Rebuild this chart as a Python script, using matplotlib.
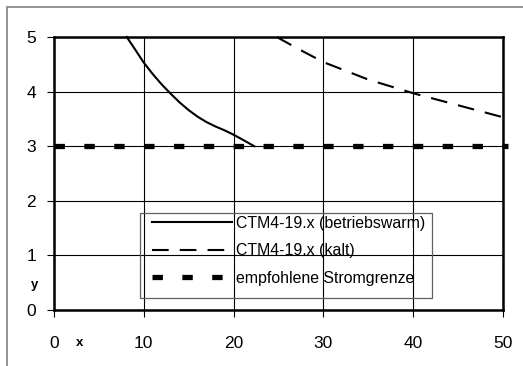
import matplotlib
matplotlib.use('Agg')
import matplotlib.pyplot as plt
from matplotlib.patches import Rectangle

plt.rcParams['font.family'] = ['Liberation Sans', 'DejaVu Sans']
plt.rcParams['lines.scale_dashes'] = False

# data
warm_x = [8.1, 9.0, 10.0, 11.0, 12.0, 13.0, 14.0, 15.0, 16.0, 17.0, 18.0, 19.0, 20.0, 21.0, 22.3]
warm_y = [5.0, 4.78, 4.53, 4.32, 4.13, 3.96, 3.8, 3.66, 3.54, 3.44, 3.36, 3.29, 3.21, 3.12, 3.0]

kalt_x = [24.8, 27.0, 30.0, 35.0, 40.0, 45.0, 50.0, 50.6]
kalt_y = [5.0, 4.8, 4.54, 4.22, 3.97, 3.75, 3.53, 3.5]

grenze_x = [0, 10, 20, 30, 40, 50, 50.6]
grenze_y = [3, 3, 3, 3, 3, 3, 3]

labels = ['CTM4-19.x (betriebswarm)', 'CTM4-19.x (kalt)', 'empfohlene Stromgrenze']
xticks = [0, 10, 20, 30, 40, 50]
yticks = [0, 1, 2, 3, 4, 5]

W, H = 523, 366
fig = plt.figure(figsize=(W / 100, H / 100), dpi=100)

# grey outer frame, cut off at right and bottom
fig.patches.append(Rectangle((7 / W, -0.05), 1.2, 1 - 7 / H + 0.05, transform=fig.transFigure,
                             fill=False, edgecolor='#808080', linewidth=1.2))

ax = fig.add_axes([54 / W, (H - 310) / H, 449 / W, 273 / H])
ax.set_xlim(0, 50)
ax.set_ylim(0, 5)
ax.set_xticks(xticks)
ax.set_yticks(yticks)
ax.grid(True, color='black', linewidth=0.8)
ax.set_axisbelow(True)
for s in ax.spines.values():
    s.set_linewidth(1.8)
    s.set_color('black')
ax.tick_params(direction='out', length=5, width=0.8, labelsize=12.5)
ax.tick_params(axis='x', pad=14)
ax.tick_params(axis='y', pad=8)

ax.plot(warm_x, warm_y, color='black', linewidth=1.5, label=labels[0], clip_on=False)
ax.plot(kalt_x, kalt_y, color='black', linewidth=1.5, linestyle=(0, (12, 8)),
        label=labels[1], clip_on=False)
ax.plot(grenze_x, grenze_y, color='black', linewidth=3.8, linestyle=(0, (7.5, 14)),
        label=labels[2], clip_on=False)

fig.text(35 / W, 1 - 285 / H, 'y', fontsize=9.5, fontweight='bold', ha='center', va='center')
fig.text(80 / W, 1 - 343 / H, 'x', fontsize=9.5, fontweight='bold', ha='center', va='center')

# legend without frame, the frame drawn as its own box
leg = ax.legend(loc='upper left', bbox_to_anchor=(152 / W, 1 - 216 / H),
                bbox_transform=fig.transFigure, borderaxespad=0, fontsize=11.4,
                handlelength=5.05, handletextpad=0.25, labelspacing=0.78,
                borderpad=0, frameon=False)
fig.patches.append(Rectangle((140 / W, 1 - 298 / H), 292 / W, 85 / H, transform=fig.transFigure,
                             fill=False, edgecolor='#606060', linewidth=0.9))

fig.savefig('out.png', dpi=100)
